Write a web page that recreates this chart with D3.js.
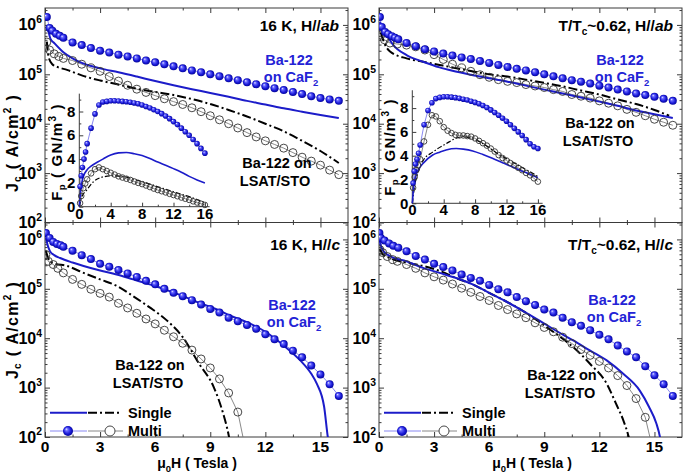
<!DOCTYPE html>
<html><head><meta charset="utf-8">
<script src="https://cdn.jsdelivr.net/npm/d3@7"></script>
<style>
body{margin:0;background:#fff}
svg{display:block}
text{font-family:"Liberation Sans",Arial,Helvetica,sans-serif;font-weight:bold;white-space:pre}
</style>
</head><body>
<svg id="c" width="685" height="476"></svg>
<script>
// ---------------- DATA ----------------
const H_DOMAIN = [0, 16.5];
const J_DOMAIN = [100, 2.2e6];
const J_TICKS = [1e2, 1e3, 1e4, 1e5, 1e6];
const H_TICKS = [0, 3, 6, 9, 12, 15];
const H_MINOR = [1.5, 4.5, 7.5, 10.5, 13.5];
const FP_DOMAIN = [0, 9.5];
const FP_H_DOMAIN = [0, 16.6];
const FP_TICKS = [0, 2, 4, 6, 8];
const FP_H_TICKS = [0, 4, 8, 12, 16];

// Top-left: 16 K, H//ab   ([H (T), Jc (A/cm2)])
const tlSingleCaF2 = [[0.12,1.0e6],[0.3,5.2e5],[0.5,4.3e5],[1,2.8e5],[1.5,2.1e5],[2,1.7e5],[3,1.32e5],[4,1.1e5],[5,9.0e4],[6,7.3e4],[7,6.0e4],[8,5.0e4],[9,4.2e4],[10,3.5e4],[11,2.9e4],[12,2.45e4],[13,2.05e4],[14,1.75e4],[15,1.5e4],[16,1.3e4]];
const tlSingleLSAT = [[0.1,4.6e5],[0.2,2.2e5],[0.4,1.6e5],[0.7,1.4e5],[1.2,1.23e5],[2,9.5e4],[3,7.5e4],[4,6.2e4],[5,5.1e4],[6,4.4e4],[7,3.8e4],[8,3.15e4],[9,2.5e4],[10,1.9e4],[11,1.4e4],[12,1.0e4],[13,7.0e3],[14,4.5e3],[15,2.8e3],[16,1.6e3]];
const tlMultiCaF2 = [[0.1,1.45e6],[0.25,8.7e5],[0.4,7.6e5],[0.6,6.6e5],[0.8,6.0e5],[1.0,5.5e5],[1.5,4.4e5],[2,3.9e5],[2.5,3.4e5],[3,3.0e5],[3.5,2.75e5],[4,2.5e5],[4.5,2.3e5],[5,2.1e5],[5.5,1.9e5],[6,1.75e5],[6.5,1.6e5],[7,1.45e5],[7.5,1.32e5],[8,1.2e5],[8.5,1.1e5],[9,1.0e5],[9.5,9.1e4],[10,8.3e4],[10.5,7.6e4],[11,6.9e4],[11.5,6.3e4],[12,5.75e4],[12.5,5.25e4],[13,4.8e4],[13.5,4.4e4],[14,4.0e4],[14.5,3.6e4],[15,3.3e4],[15.5,3.1e4],[16,2.9e4]];
const tlMultiLSAT = [[0.1,4.5e5],[0.25,3.1e5],[0.5,2.6e5],[0.75,2.3e5],[1.0,2.1e5],[1.5,1.9e5],[2,1.6e5],[2.5,1.35e5],[3,1.15e5],[3.5,9.0e4],[4,7.3e4],[4.5,6.0e4],[5,5.0e4],[5.5,4.3e4],[6,3.7e4],[6.5,3.2e4],[7,2.8e4],[7.5,2.45e4],[8,2.1e4],[8.5,1.75e4],[9,1.45e4],[9.5,1.2e4],[10,1.0e4],[10.5,8.2e3],[11,6.6e3],[11.5,5.4e3],[12,4.5e3],[12.5,3.8e3],[13,3.2e3],[13.5,2.6e3],[14,2.1e3],[14.5,1.75e3],[15,1.45e3],[15.5,1.15e3],[16,9.3e2]];

// Top-right: T/Tc~0.62, H//ab
const trSingleCaF2 = [[0.05,1.15e6],[0.2,8.0e5],[0.42,6.2e5],[0.78,3.9e5],[1.5,2.45e5],[2.4,1.8e5],[3.3,1.38e5],[4,1.18e5],[5,9.8e4],[6,8.3e4],[7,7.1e4],[8,5.9e4],[9,4.9e4],[10,4.1e4],[11,3.4e4],[12,2.8e4],[13,2.3e4],[14,1.85e4],[15,1.55e4],[16,1.3e4]];
const trSingleLSAT = [[0.1,7.0e5],[0.3,4.2e5],[0.6,2.9e5],[1.5,2.1e5],[2.4,1.8e5],[3.3,1.55e5],[4,1.38e5],[5,1.17e5],[6,1.0e5],[7,9.0e4],[8,7.8e4],[9,6.7e4],[10,5.7e4],[11,4.7e4],[12,3.9e4],[13,3.1e4],[14,2.5e4],[15,1.9e4],[15.8,1.45e4]];
const trMultiCaF2 = [[0.05,1.45e6],[0.15,9.1e5],[0.33,7.2e5],[0.5,6.5e5],[0.7,5.9e5],[0.87,5.5e5],[1.05,5.1e5],[1.5,4.3e5],[2,3.7e5],[2.5,3.2e5],[3,2.9e5],[3.5,2.63e5],[4,2.4e5],[4.5,2.2e5],[5,2.04e5],[5.5,1.86e5],[6,1.7e5],[6.5,1.55e5],[7,1.41e5],[7.5,1.29e5],[8,1.2e5],[8.5,1.1e5],[9,1.0e5],[9.5,9.1e4],[10,8.3e4],[10.5,7.6e4],[11,7.1e4],[11.5,6.5e4],[12,5.9e4],[12.5,5.4e4],[13,4.9e4],[13.5,4.5e4],[14,4.1e4],[14.5,3.8e4],[15,3.5e4],[15.5,3.2e4],[16,2.9e4]];
const trMultiLSAT = [[0.1,6.2e5],[0.3,5.0e5],[0.6,4.3e5],[1.0,4.1e5],[1.5,3.9e5],[2,3.6e5],[2.5,3.1e5],[3,2.5e5],[3.5,2.0e5],[4,1.6e5],[4.5,1.35e5],[5,1.15e5],[5.5,9.8e4],[6,8.7e4],[6.5,7.8e4],[7,7.2e4],[7.5,6.8e4],[8,6.2e4],[8.5,5.8e4],[9,5.4e4],[9.5,4.9e4],[10,4.5e4],[10.5,3.9e4],[11,3.6e4],[11.5,3.3e4],[12,2.9e4],[12.5,2.6e4],[13,2.3e4],[13.5,1.95e4],[14,1.7e4],[14.5,1.45e4],[15,1.23e4],[15.5,1.07e4],[16,9.3e3]];

// Bottom-left: 16 K, H//c
const blSingleCaF2 = [[0.05,1.1e6],[0.15,7.5e5],[0.27,5.8e5],[0.5,4.8e5],[0.82,4.2e5],[1.5,3.4e5],[2.1,2.9e5],[3,2.35e5],[3.9,1.95e5],[4.8,1.55e5],[5.7,1.23e5],[6.6,9.5e4],[7.5,7.1e4],[8.4,5.2e4],[9.3,3.9e4],[10.2,2.75e4],[11.2,1.95e4],[12,1.35e4],[13,7.1e3],[13.9,3.55e3],[14.5,1.9e3],[14.8,1.2e3],[15.2,4.1e2],[15.4,1.0e2],[15.5,6.0e1]];
const blSingleLSAT = [[0.05,5.8e5],[0.2,4.0e5],[0.45,3.3e5],[1.2,2.9e5],[2.1,2.1e5],[3,1.55e5],[3.9,1.15e5],[4.8,7.1e4],[5.7,4.2e4],[6.6,2.35e4],[7.5,1.05e4],[8.4,3.0e3],[9.2,1.0e3],[9.7,3.0e2],[10.0,1.1e2],[10.1,7.0e1]];
const blMultiCaF2 = [[0.05,1.35e6],[0.25,1.07e6],[0.45,8.9e5],[0.65,8.1e5],[0.85,7.6e5],[1.0,7.1e5],[1.5,5.9e5],[2,4.8e5],[2.5,4.0e5],[3,3.2e5],[3.5,2.8e5],[4,2.4e5],[4.5,2.05e5],[5,1.74e5],[5.5,1.45e5],[6,1.23e5],[6.5,1.0e5],[7,8.3e4],[7.5,7.1e4],[8,5.9e4],[8.5,4.8e4],[9,3.9e4],[9.5,3.3e4],[10,2.6e4],[10.5,2.2e4],[11,1.85e4],[11.5,1.55e4],[12,1.2e4],[12.5,9.5e3],[13,7.6e3],[13.5,5.6e3],[14,4.1e3],[14.5,2.8e3],[15,1.85e3],[15.5,1.17e3],[16,6.8e2]];
const blMultiLSAT = [[0.05,4.9e5],[0.18,3.6e5],[0.45,3.1e5],[0.7,2.6e5],[1.0,2.1e5],[1.5,1.55e5],[2,1.23e5],[2.5,9.8e4],[3,8.1e4],[3.5,6.8e4],[4,5.1e4],[4.5,4.1e4],[5,3.2e4],[5.5,2.45e4],[6,1.95e4],[6.5,1.45e4],[7,1.07e4],[7.5,7.9e3],[8,5.75e3],[8.5,3.8e3],[9,2.5e3],[9.5,1.5e3],[10,7.8e2],[10.5,3.2e2],[11.0,4.0e1]];

// Bottom-right: T/Tc~0.62, H//c
const brSingleCaF2 = [[0.02,1.0e6],[0.1,7.5e5],[0.24,5.8e5],[0.6,4.6e5],[1.5,3.6e5],[2.4,2.65e5],[3.3,2.1e5],[4.2,1.65e5],[5.1,1.23e5],[6,8.3e4],[6.9,5.6e4],[7.85,3.55e4],[8.76,2.25e4],[9.67,1.4e4],[10.6,8.9e3],[11.5,5.6e3],[12.4,3.55e3],[13.3,1.9e3],[14.2,8.7e2],[14.7,4.1e2],[15.1,1.9e2],[15.3,1.0e2],[15.4,6.0e1]];
const brSingleLSAT = [[0.05,6.5e5],[0.2,5.0e5],[0.6,4.2e5],[1.5,3.4e5],[2.4,2.9e5],[3.3,2.3e5],[4.2,1.65e5],[5.1,1.23e5],[6,8.3e4],[6.9,5.6e4],[7.85,3.55e4],[8.76,2.1e4],[9.67,1.2e4],[10.6,6.5e3],[11.5,3.0e3],[12.4,1.2e3],[12.9,4.8e2],[13.3,2.2e2],[13.6,1.0e2],[13.7,7.0e1]];
const brMultiCaF2 = [[0.02,1.35e6],[0.1,1.07e6],[0.3,9.5e5],[0.55,8.3e5],[0.78,7.4e5],[1.05,6.8e5],[1.5,5.75e5],[2,4.6e5],[2.5,3.9e5],[3,3.2e5],[3.5,2.75e5],[4,2.35e5],[4.5,1.95e5],[5,1.66e5],[5.5,1.45e5],[6,1.2e5],[6.5,9.8e4],[7,8.5e4],[7.5,6.8e4],[8,5.6e4],[8.5,4.7e4],[9,3.8e4],[9.5,3.3e4],[10,2.6e4],[10.5,2.1e4],[11,1.78e4],[11.5,1.45e4],[12,1.17e4],[12.5,9.5e3],[13,7.1e3],[13.5,5.4e3],[14,4.1e3],[14.5,2.7e3],[15,1.78e3],[15.5,1.17e3],[16,6.8e2]];
const brMultiLSAT = [[0.05,6.2e5],[0.2,5.4e5],[0.45,4.5e5],[0.75,3.9e5],[1.0,3.6e5],[1.5,3.1e5],[2,2.6e5],[2.5,2.1e5],[3,1.75e5],[3.5,1.5e5],[4,1.25e5],[4.5,1.03e5],[5,8.5e4],[5.5,7.0e4],[6,5.8e4],[6.5,4.6e4],[7,3.8e4],[7.5,3.1e4],[8,2.6e4],[8.5,2.05e4],[9,1.65e4],[9.5,1.35e4],[10,1.05e4],[10.5,7.8e3],[11,5.9e3],[11.5,4.5e3],[12,3.4e3],[12.5,2.5e3],[13,1.75e3],[13.5,1.1e3],[14,6.0e2],[14.5,2.5e2],[15.0,4.0e1]];

// Insets: pinning force Fp (GN/m3) vs H (T)
const tlFpSingleCaF2 = [[0,0],[0.2,1.5],[0.5,2.5],[1,3.1],[1.5,3.4],[2.4,3.78],[3,4.0],[4,4.35],[5,4.52],[6,4.55],[7,4.45],[8,4.3],[9,4.05],[10,3.75],[11,3.48],[12,3.2],[13,2.9],[14,2.55],[15,2.25],[16,2.0]];
const tlFpSingleLSAT = [[0,0],[0.3,0.8],[0.94,1.4],[1.8,2.1],[3,2.5],[4.3,2.6],[5.5,2.55],[7,2.3],[8,2.1],[9,1.9],[10,1.68],[11,1.47],[12,1.26],[13,1.05],[14,0.85],[15,0.6],[16,0.35]];
const tlFpMultiCaF2 = [[0.1,1.7],[0.25,2.6],[0.4,3.3],[0.6,4.0],[0.8,4.6],[1.0,5.3],[1.5,6.6],[2,7.8],[2.5,8.55],[3,8.8],[3.5,8.85],[4,8.9],[4.5,8.9],[5,8.88],[5.5,8.85],[6,8.82],[6.5,8.78],[7,8.72],[7.5,8.65],[8,8.55],[8.5,8.42],[9,8.3],[9.5,8.15],[10,8.0],[10.5,7.82],[11,7.62],[11.5,7.4],[12,7.15],[12.5,6.9],[13,6.6],[13.5,6.3],[14,6.0],[14.5,5.65],[15,5.3],[15.5,4.9],[16,4.5]];
const tlFpMultiLSAT = [[0.1,0.3],[0.25,0.9],[0.5,1.55],[0.75,1.95],[1,2.3],[1.5,2.8],[2,3.15],[2.5,3.3],[3,3.15],[3.5,3.0],[4,2.85],[4.5,2.7],[5,2.55],[5.5,2.45],[6,2.35],[6.5,2.25],[7,2.12],[7.5,2.0],[8,1.9],[8.5,1.78],[9,1.65],[9.5,1.52],[10,1.4],[10.5,1.3],[11,1.2],[11.5,1.08],[12,0.98],[12.5,0.88],[13,0.77],[13.5,0.67],[14,0.57],[14.5,0.45],[15,0.35],[15.5,0.25],[16,0.15]];

const trFpSingleCaF2 = [[0,0],[0.2,1.5],[0.55,2.5],[1.39,3.36],[2.6,4.06],[3.5,4.3],[4.3,4.48],[5.6,4.6],[6.5,4.55],[7.7,4.4],[9,4.1],[10.2,3.78],[11.5,3.4],[12.7,3.08],[14,2.7],[15,2.45],[16,2.15]];
const trFpSingleLSAT = [[0,0],[0.3,1.5],[0.7,2.5],[1.39,3.6],[2.6,4.3],[4.3,5.0],[5.5,5.45],[6.5,5.6],[7.3,5.5],[8.5,5.2],[9.5,4.8],[10.6,4.3],[11.6,3.9],[12.7,3.5],[14,3.0],[15,2.65],[16,2.25]];
const trFpMultiCaF2 = [[0.1,1.7],[0.25,2.7],[0.4,3.3],[0.6,3.7],[0.8,4.2],[1.0,4.9],[1.5,6.6],[2,7.8],[2.5,8.45],[3,8.8],[3.5,8.9],[4,8.95],[4.5,8.95],[5,8.92],[5.5,8.88],[6,8.82],[6.5,8.75],[7,8.68],[7.5,8.58],[8,8.48],[8.5,8.37],[9,8.22],[9.5,8.05],[10,7.85],[10.5,7.63],[11,7.4],[11.5,7.15],[12,6.9],[12.5,6.6],[13,6.3],[13.5,6.0],[14,5.7],[14.5,5.35],[15,5.0],[15.5,4.75],[16,4.6]];
const trFpMultiLSAT = [[0.1,1.3],[0.3,2.2],[0.5,2.8],[0.75,3.2],[1,3.7],[1.5,5.2],[2,6.6],[2.5,7.4],[3,7.3],[3.5,6.9],[4,6.4],[4.5,6.1],[5,5.9],[5.5,5.75],[6,5.7],[6.5,5.7],[7,5.65],[7.5,5.6],[8,5.45],[8.5,5.25],[9,5.05],[9.5,4.85],[10,4.6],[10.5,4.35],[11,4.05],[11.5,3.8],[12,3.6],[12.5,3.38],[13,3.18],[13.5,2.98],[14,2.78],[14.5,2.55],[15,2.35],[15.5,2.1],[16,1.82]];

// ---------------- STYLE / LAYOUT ----------------
const BLUE_TXT = '#2323d6';
const BLUE_LINE = '#1c1cc9';
const AXIS = '#3a3a3a';

const svg = d3.select('#c');
const defs = svg.append('defs');
const grad = defs.append('radialGradient').attr('id','ball')
  .attr('cx','50%').attr('cy','50%').attr('r','55%').attr('fx','32%').attr('fy','30%');
grad.append('stop').attr('offset','0%').attr('stop-color','#f2f2ff');
grad.append('stop').attr('offset','25%').attr('stop-color','#6a6aff');
grad.append('stop').attr('offset','65%').attr('stop-color','#1a1ad8');
grad.append('stop').attr('offset','100%').attr('stop-color','#00008c');

const panels = [
  {id:'tl', left:45, top:8, width:303, height:214.5, single:[tlSingleCaF2,tlSingleLSAT], multi:[tlMultiCaF2,tlMultiLSAT], xLabels:false},
  {id:'tr', left:379, top:8, width:303, height:214.5, single:[trSingleCaF2,trSingleLSAT], multi:[trMultiCaF2,trMultiLSAT], xLabels:false},
  {id:'bl', left:45, top:222.5, width:303, height:214.5, single:[blSingleCaF2,blSingleLSAT], multi:[blMultiCaF2,blMultiLSAT], xLabels:true},
  {id:'br', left:379, top:222.5, width:303, height:214.5, single:[brSingleCaF2,brSingleLSAT], multi:[brMultiCaF2,brMultiLSAT], xLabels:true}
];

const minorJ = [];
J_TICKS.forEach(d => { for (let m = 2; m <= 9; m++) { const v = m * d; if (v <= J_DOMAIN[1]) minorJ.push(v); } });

function tickAxis(g, axis) {
  g.call(axis);
  g.select('.domain').remove();
  g.selectAll('.tick line').attr('stroke', AXIS).attr('stroke-width', 1);
  g.selectAll('.tick text').remove();
}

function drawSeries(g, x, y, single, multi, r, widths) {
  const curve = d3.line().x(d => x(d[0])).y(d => y(d[1])).curve(d3.curveMonotoneX);
  const straight = d3.line().x(d => x(d[0])).y(d => y(d[1]));
  g.append('path').attr('d', straight(multi[1])).attr('fill','none').attr('stroke','#6b6b6b').attr('stroke-width',0.8);
  g.append('path').attr('d', straight(multi[0])).attr('fill','none').attr('stroke','#6a6aee').attr('stroke-width',0.8);
  g.append('path').attr('d', curve(single[1])).attr('fill','none').attr('stroke','#000').attr('stroke-width',widths[1]).attr('stroke-dasharray', widths[2]);
  g.append('path').attr('d', curve(single[0])).attr('fill','none').attr('stroke',BLUE_LINE).attr('stroke-width',widths[0]);
  g.append('g').selectAll('circle').data(multi[1]).join('circle')
    .attr('cx', d => x(d[0])).attr('cy', d => y(d[1])).attr('r', r)
    .attr('fill','none').attr('stroke','#333').attr('stroke-width',0.9);
  g.append('g').selectAll('circle').data(multi[0]).join('circle')
    .attr('cx', d => x(d[0])).attr('cy', d => y(d[1])).attr('r', r)
    .attr('fill','url(#ball)');
}

function supText(parent, xx, yy, base, sup, anchor, size) {
  const t = parent.append('text').attr('x', xx).attr('y', yy).attr('text-anchor', anchor).attr('font-size', size);
  t.append('tspan').text(base);
  t.append('tspan').attr('dy', -size * 0.45).attr('font-size', size * 0.65).text(sup);
  return t;
}

panels.forEach(p => {
  const g = svg.append('g').attr('transform', `translate(${p.left},${p.top})`);
  const x = d3.scaleLinear().domain(H_DOMAIN).range([0, p.width]);
  const y = d3.scaleLog().domain(J_DOMAIN).range([p.height, 0]);
  defs.append('clipPath').attr('id', 'clip-' + p.id).append('rect').attr('width', p.width).attr('height', p.height);

  tickAxis(g.append('g'), d3.axisLeft(y).tickValues(J_TICKS).tickSize(-5));
  tickAxis(g.append('g'), d3.axisLeft(y).tickValues(minorJ).tickSize(-2.5));
  tickAxis(g.append('g').attr('transform', `translate(${p.width},0)`), d3.axisRight(y).tickValues(J_TICKS).tickSize(-5));
  tickAxis(g.append('g').attr('transform', `translate(${p.width},0)`), d3.axisRight(y).tickValues(minorJ).tickSize(-2.5));
  tickAxis(g.append('g').attr('transform', `translate(0,${p.height})`), d3.axisBottom(x).tickValues(H_TICKS).tickSize(-5));
  tickAxis(g.append('g').attr('transform', `translate(0,${p.height})`), d3.axisBottom(x).tickValues(H_MINOR).tickSize(-2.5));
  tickAxis(g.append('g'), d3.axisTop(x).tickValues(H_TICKS).tickSize(-5));
  tickAxis(g.append('g'), d3.axisTop(x).tickValues(H_MINOR).tickSize(-2.5));

  g.append('rect').attr('width', p.width).attr('height', p.height).attr('fill','none').attr('stroke', AXIS).attr('stroke-width',1);

  const body = g.append('g').attr('clip-path', `url(#clip-${p.id})`);
  drawSeries(body, x, y, p.single, p.multi, 4, [2, 2, '9,3,2,3']);

  J_TICKS.forEach(v => {
    supText(g, -3, y(v) + 5.5, '10', String(Math.round(Math.log10(v))), 'end', 16);
  });
  if (p.xLabels) {
    H_TICKS.forEach(v => {
      g.append('text').attr('x', x(v)).attr('y', p.height + 15).attr('text-anchor','middle').attr('font-size',15.5).text(v);
    });
  }
});

// ---------------- INSETS ----------------
const insets = [
  {ox:79.3, oy:206.7, series:[tlFpSingleCaF2, tlFpSingleLSAT, tlFpMultiCaF2, tlFpMultiLSAT], title:[62,152]},
  {ox:412.3, oy:203.3, series:[trFpSingleCaF2, trFpSingleLSAT, trFpMultiCaF2, trFpMultiLSAT], title:[395,147]}
];
insets.forEach(s => {
  const w = 7.85 * (FP_H_DOMAIN[1] - FP_H_DOMAIN[0]);
  const h = 11.9 * (FP_DOMAIN[1] - FP_DOMAIN[0]);
  const g = svg.append('g').attr('transform', `translate(${s.ox},${s.oy - h})`);
  const x = d3.scaleLinear().domain(FP_H_DOMAIN).range([0, w]);
  const y = d3.scaleLinear().domain(FP_DOMAIN).range([h, 0]);
  tickAxis(g.append('g'), d3.axisLeft(y).tickValues(FP_TICKS).tickSize(-4));
  tickAxis(g.append('g'), d3.axisLeft(y).tickValues([1,3,5,7,9]).tickSize(-2));
  tickAxis(g.append('g').attr('transform', `translate(0,${h})`), d3.axisBottom(x).tickValues(FP_H_TICKS).tickSize(-4));
  tickAxis(g.append('g').attr('transform', `translate(0,${h})`), d3.axisBottom(x).tickValues([2,6,10,14]).tickSize(-2));
  g.append('line').attr('x1',0).attr('x2',0).attr('y1',0).attr('y2',h).attr('stroke',AXIS);
  g.append('line').attr('x1',0).attr('x2',w).attr('y1',h).attr('y2',h).attr('stroke',AXIS);
  drawSeries(g, x, y, [s.series[0], s.series[1]], [s.series[2], s.series[3]], 2.8, [1.6, 1.2, '5,2,1.5,2']);
  FP_TICKS.forEach(v => g.append('text').attr('x', -4).attr('y', y(v) + 5.2).attr('text-anchor','end').attr('font-size',15).text(v));
  FP_H_TICKS.forEach(v => g.append('text').attr('x', x(v)).attr('y', h + 12).attr('text-anchor','middle').attr('font-size',15).text(v));
  const t = svg.append('text').attr('transform', `translate(${s.title[0]},${s.title[1]}) rotate(-90)`).attr('text-anchor','middle').attr('font-size',15).attr('letter-spacing',1.2);
  t.append('tspan').text('F');
  t.append('tspan').attr('dy',2.5).attr('font-size',9.5).text('p');
  t.append('tspan').attr('dy',-2.5).text(' ( GN/m');
  t.append('tspan').attr('dy',-6).attr('font-size',10).text('3');
  t.append('tspan').attr('dy',6).text(' )');
});

// ---------------- TEXT LABELS ----------------
function condLabel(xEnd, yb, prefix, orient) {
  const t = svg.append('text').attr('x', xEnd).attr('y', yb).attr('text-anchor','end').attr('font-size',15.5);
  if (prefix) {
    t.append('tspan').text('T/T');
    t.append('tspan').attr('dy',4).attr('font-size',10).text('c');
    t.append('tspan').attr('dy',-4).text('~0.62, H//');
  } else {
    t.append('tspan').text('16 K, H//');
  }
  t.append('tspan').attr('font-style','italic').text(orient);
}
condLabel(339, 31, false, 'ab');
condLabel(673, 31, true, 'ab');
condLabel(340, 250, false, 'c');
condLabel(673, 250, true, 'c');

function caf2Label(cx, yb) {
  svg.append('text').attr('x', cx).attr('y', yb).attr('text-anchor','middle').attr('font-size',14.5).attr('fill',BLUE_TXT).text('Ba-122');
  const t = svg.append('text').attr('x', cx + 2).attr('y', yb + 17).attr('text-anchor','middle').attr('font-size',14.5).attr('fill',BLUE_TXT);
  t.append('tspan').text('on CaF');
  t.append('tspan').attr('dy',4).attr('font-size',9.5).text('2');
}
caf2Label(289, 65);
caf2Label(620, 65);
caf2Label(292, 310);
caf2Label(612, 305);

function lsatLabel(cx, yb) {
  svg.append('text').attr('x', cx).attr('y', yb).attr('text-anchor','middle').attr('font-size',14.5).text('Ba-122 on');
  svg.append('text').attr('x', cx - 2).attr('y', yb + 18).attr('text-anchor','middle').attr('font-size',14.5).text('LSAT/STO');
}
lsatLabel(277, 168);
lsatLabel(600, 128);
lsatLabel(150, 370);
lsatLabel(562, 380);

function legend(ox) {
  const y1 = 412.7, y2 = 431;
  svg.append('line').attr('x1', ox + 5).attr('x2', ox + 42).attr('y1', y1).attr('y2', y1).attr('stroke', BLUE_LINE).attr('stroke-width', 2);
  svg.append('line').attr('x1', ox + 43).attr('x2', ox + 76).attr('y1', y1).attr('y2', y1).attr('stroke', '#000').attr('stroke-width', 2).attr('stroke-dasharray','9,3,2,3');
  svg.append('line').attr('x1', ox + 5).attr('x2', ox + 42).attr('y1', y2).attr('y2', y2).attr('stroke', '#6a6aee').attr('stroke-width', 0.8);
  svg.append('line').attr('x1', ox + 43).attr('x2', ox + 78).attr('y1', y2).attr('y2', y2).attr('stroke', '#6b6b6b').attr('stroke-width', 0.8);
  svg.append('circle').attr('cx', ox + 23).attr('cy', y2).attr('r', 5).attr('fill','url(#ball)');
  svg.append('circle').attr('cx', ox + 65).attr('cy', y2).attr('r', 5).attr('fill','#fff').attr('stroke','#333').attr('stroke-width',0.9);
  svg.append('text').attr('x', ox + 83).attr('y', 418).attr('font-size',14.5).text('Single');
  svg.append('text').attr('x', ox + 83).attr('y', 436).attr('font-size',14.5).text('Multi');
}
legend(45);
legend(379);

function yTitle(cx, cy) {
  const t = svg.append('text').attr('transform', `translate(${cx},${cy}) rotate(-90)`).attr('text-anchor','middle').attr('font-size',16).attr('letter-spacing',1.3);
  t.append('tspan').text('J');
  t.append('tspan').attr('dy',3).attr('font-size',10).text('c');
  t.append('tspan').attr('dy',-3).text(' ( A/cm');
  t.append('tspan').attr('dy',-7).attr('font-size',10).text('2');
  t.append('tspan').attr('dy',7).text(' )');
}
yTitle(18, 143);
yTitle(18, 330);
function xTitle(cx) {
  const t = svg.append('text').attr('x', cx).attr('y', 468).attr('text-anchor','middle').attr('font-size',14);
  t.append('tspan').text('\u03bc');
  t.append('tspan').attr('dy',4).attr('font-size',9.5).text('0');
  t.append('tspan').attr('dy',-4).text('H ( Tesla )');
}
xTitle(197);
xTitle(532);
</script>
</body></html>
